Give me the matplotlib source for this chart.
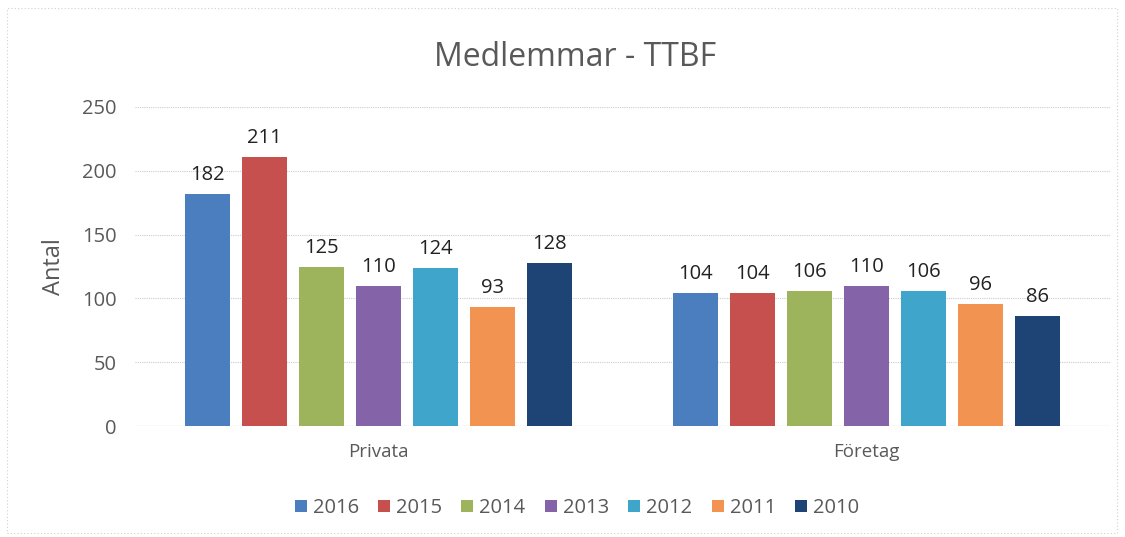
import matplotlib
matplotlib.use("Agg")
import matplotlib.pyplot as plt
import numpy as np
from matplotlib.patches import Rectangle

categories = ["Privata", "Företag"]
years = ["2016", "2015", "2014", "2013", "2012", "2011", "2010"]
values = {
    "2016": [182, 104],
    "2015": [211, 104],
    "2014": [125, 106],
    "2013": [110, 110],
    "2012": [124, 106],
    "2011": [93, 96],
    "2010": [128, 86],
}
colors = ["#4A7EBF", "#C6504E", "#9DB35C", "#8563A8", "#3FA5CB", "#F39352", "#1E4476"]
yticks = [0, 50, 100, 150, 200, 250]

plt.rcParams['font.family'] = ['Open Sans', 'DejaVu Sans']
txt = "#595959"

fig = plt.figure(figsize=(11.25, 5.37), dpi=100)
ax = fig.add_axes([135/1125, 1-426/537, 975/1125, (426-107)/537])

x = np.arange(len(categories))
step = 0.117
width = 0.092
n = len(years)
handles = []
for i, (yr, c) in enumerate(zip(years, colors)):
    pos = x + (i - (n-1)/2) * step
    b = ax.bar(pos, values[yr], width=width, color=c, label=yr, zorder=3)
    handles.append(b)
    for p, v in zip(pos, values[yr]):
        ax.text(p, v + 7, str(v), ha='center', va='bottom', fontsize=14.5, color="#222222")

ax.set_xlim(-0.5, 1.5)
ax.set_ylim(0, 250)
ax.set_yticks(yticks)
ax.set_yticklabels([str(t) for t in yticks], fontsize=14.5, color=txt)
ax.set_xticks(x)
ax.set_xticklabels(categories, fontsize=13.5, color=txt)
ax.tick_params(axis='both', length=0)
ax.tick_params(axis='y', pad=13)
ax.tick_params(axis='x', pad=12)
ax.grid(axis='y', color="#cccccc", linestyle=(0, (1, 1)), linewidth=0.8, zorder=0)
for s in ax.spines.values():
    s.set_visible(False)
ax.axhline(0, color="#bbbbbb", linewidth=0.8, zorder=2)
ax.set_ylabel("Antal", fontsize=17, color=txt, labelpad=12)

fig.text(575/1125, 1-58/537, "Medlemmar - TTBF", ha='center', va='center', fontsize=23, color=txt)

leg = fig.legend(handles=handles, labels=years, loc='center', bbox_to_anchor=(577/1125, 1-508/537),
                 ncol=7, frameon=False, fontsize=14.5, handlelength=0.6, handleheight=0.6,
                 handletextpad=0.3, columnspacing=0.95, labelcolor=txt)

fig.patches.append(Rectangle((7/1125, 4/537), 1110/1125, 525/537, transform=fig.transFigure,
                             fill=False, edgecolor="#d0d0d0", linestyle=(0, (1, 2)), linewidth=0.8))

fig.savefig("out.png", dpi=100)
